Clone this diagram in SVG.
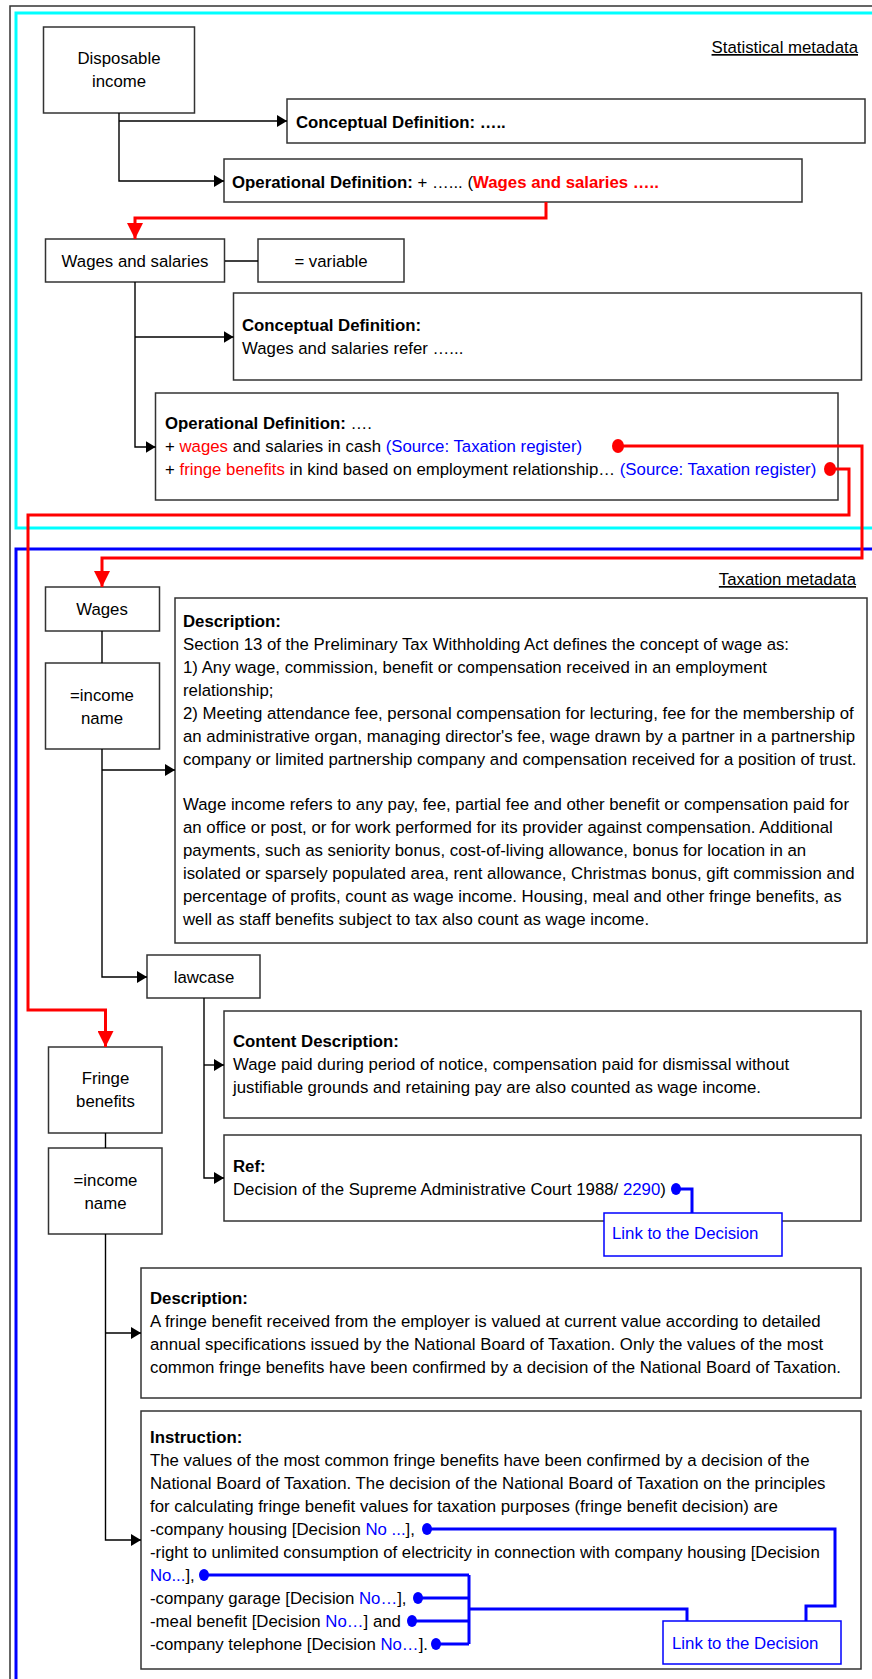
<svg xmlns="http://www.w3.org/2000/svg" width="872" height="1679" viewBox="0 0 872 1679">
<defs>
<marker id="ah" markerUnits="userSpaceOnUse" markerWidth="10" markerHeight="12" refX="10" refY="6" orient="auto"><path d="M0,0 L10,6 L0,12 z" fill="#000"/></marker>
<marker id="rh" markerUnits="userSpaceOnUse" markerWidth="16" markerHeight="16" refX="16" refY="8" orient="auto"><path d="M0,0 L16,8 L0,16 z" fill="#f00"/></marker>
</defs>
<style>
text{font-family:"Liberation Sans",Arial,sans-serif;font-size:16.8px;fill:#000}
.b{font-weight:bold}
.r{fill:#f00}
.bl{fill:#00f}
.c{text-anchor:middle}
.box{fill:#fff;stroke:#333;stroke-width:1.5}
.lnk{fill:#fff;stroke:#00f;stroke-width:1.5}
.con{fill:none;stroke:#000;stroke-width:1.4}
.red{fill:none;stroke:#f00;stroke-width:3}
.blu{fill:none;stroke:#00f;stroke-width:3}
.rd{fill:#f00}
.bd{fill:#00f}
</style>
<rect x="0" y="0" width="872" height="1679" fill="#fff"/>
<g id="frames">
<rect x="10" y="6" width="900" height="1700" fill="none" stroke="#333" stroke-width="1.5"/>
<rect x="16" y="13" width="900" height="515" fill="none" stroke="#00ffff" stroke-width="3"/>
<rect x="16" y="549" width="900" height="1200" fill="none" stroke="#00f" stroke-width="3"/>
<text x="858" y="53" text-anchor="end" text-decoration="underline">Statistical metadata</text>
<text x="856" y="585" text-anchor="end" text-decoration="underline">Taxation metadata</text>
</g>
<g id="disposable-income">
<rect class="box" x="43.5" y="27" width="151" height="86"/>
<text class="c" x="119" y="64">Disposable</text>
<text class="c" x="119" y="87">income</text>
</g>
<g id="conceptual-1">
<rect class="box" x="287" y="99" width="578" height="44"/>
<text class="b" x="296" y="128">Conceptual Definition: …..</text>
</g>
<g id="operational-1">
<rect class="box" x="224" y="159" width="578" height="43"/>
<text x="232" y="188"><tspan class="b">Operational Definition:</tspan> + …... (<tspan class="b r">Wages and salaries …..</tspan></text>
</g>
<g id="wages-and-salaries">
<rect class="box" x="45.5" y="239" width="179" height="43"/>
<text class="c" x="135" y="267">Wages and salaries</text>
</g>
<g id="variable">
<rect class="box" x="258" y="239" width="146" height="43"/>
<text class="c" x="331" y="267">= variable</text>
</g>
<g id="conceptual-2">
<rect class="box" x="233.5" y="293" width="628" height="87"/>
<text class="b" x="242" y="331">Conceptual Definition:</text>
<text x="242" y="354">Wages and salaries refer …...</text>
</g>
<g id="operational-2">
<rect class="box" x="155.5" y="393" width="682.5" height="107"/>
<text x="165" y="429"><tspan class="b">Operational Definition:</tspan> ….</text>
<text x="165" y="452">+ <tspan class="r">wages</tspan> and salaries in cash <tspan class="bl">(Source: Taxation register)</tspan></text>
<text x="165" y="475">+ <tspan class="r">fringe benefits</tspan> in kind based on employment relationship… <tspan class="bl">(Source: Taxation register)</tspan></text>
</g>
<g id="wages">
<rect class="box" x="45.5" y="587" width="114" height="44"/>
<text class="c" x="102" y="615">Wages</text>
</g>
<g id="income-name-1">
<rect class="box" x="45.5" y="663" width="114" height="86"/>
<text class="c" x="102" y="701">=income</text>
<text class="c" x="102" y="724">name</text>
</g>
<g id="description-1">
<rect class="box" x="175" y="598" width="692" height="345"/>
<text class="b" x="183" y="627">Description:</text>
<text x="183" y="650">Section 13 of the Preliminary Tax Withholding Act defines the concept of wage as:</text>
<text x="183" y="673">1) Any wage, commission, benefit or compensation received in an employment</text>
<text x="183" y="696">relationship;</text>
<text x="183" y="719">2) Meeting attendance fee, personal compensation for lecturing, fee for the membership of</text>
<text x="183" y="742">an administrative organ, managing director's fee, wage drawn by a partner in a partnership</text>
<text x="183" y="765">company or limited partnership company and compensation received for a position of trust.</text>
<text x="183" y="810">Wage income refers to any pay, fee, partial fee and other benefit or compensation paid for</text>
<text x="183" y="833">an office or post, or for work performed for its provider against compensation. Additional</text>
<text x="183" y="856">payments, such as seniority bonus, cost-of-living allowance, bonus for location in an</text>
<text x="183" y="879">isolated or sparsely populated area, rent allowance, Christmas bonus, gift commission and</text>
<text x="183" y="902">percentage of profits, count as wage income. Housing, meal and other fringe benefits, as</text>
<text x="183" y="925">well as staff benefits subject to tax also count as wage income.</text>
</g>
<g id="lawcase">
<rect class="box" x="147" y="955" width="113" height="43"/>
<text class="c" x="204" y="983">lawcase</text>
</g>
<g id="content-description">
<rect class="box" x="224" y="1011" width="637" height="107"/>
<text class="b" x="233" y="1047">Content Description:</text>
<text x="233" y="1070">Wage paid during period of notice, compensation paid for dismissal without</text>
<text x="233" y="1093">justifiable grounds and retaining pay are also counted as wage income.</text>
</g>
<g id="ref">
<rect class="box" x="224" y="1135" width="637" height="86"/>
<text class="b" x="233" y="1172">Ref:</text>
<text x="233" y="1195">Decision of the Supreme Administrative Court 1988/ <tspan class="bl">2290</tspan>)</text>
</g>
<g id="link-1">
<rect class="lnk" x="604" y="1213" width="178" height="43"/>
<text class="bl" x="612" y="1239">Link to the Decision</text>
</g>
<g id="fringe-benefits">
<rect class="box" x="48.5" y="1047" width="113.5" height="86"/>
<text class="c" x="105.5" y="1084">Fringe</text>
<text class="c" x="105.5" y="1107">benefits</text>
</g>
<g id="income-name-2">
<rect class="box" x="48.5" y="1148" width="113.5" height="86"/>
<text class="c" x="105.5" y="1186">=income</text>
<text class="c" x="105.5" y="1209">name</text>
</g>
<g id="description-2">
<rect class="box" x="141" y="1268" width="720" height="130"/>
<text class="b" x="150" y="1304">Description:</text>
<text x="150" y="1327">A fringe benefit received from the employer is valued at current value according to detailed</text>
<text x="150" y="1350">annual specifications issued by the National Board of Taxation. Only the values of the most</text>
<text x="150" y="1373">common fringe benefits have been confirmed by a decision of the National Board of Taxation.</text>
</g>
<g id="instruction">
<rect class="box" x="141" y="1411" width="720" height="258"/>
<text class="b" x="150" y="1443">Instruction:</text>
<text x="150" y="1466">The values of the most common fringe benefits have been confirmed by a decision of the</text>
<text x="150" y="1489">National Board of Taxation. The decision of the National Board of Taxation on the principles</text>
<text x="150" y="1512">for calculating fringe benefit values for taxation purposes (fringe benefit decision) are</text>
<text x="150" y="1535">-company housing [Decision <tspan class="bl">No ...</tspan>],</text>
<text x="150" y="1558">-right to unlimited consumption of electricity in connection with company housing [Decision</text>
<text x="150" y="1581"><tspan class="bl">No...</tspan>],</text>
<text x="150" y="1604">-company garage [Decision <tspan class="bl">No…</tspan>],</text>
<text x="150" y="1627">-meal benefit [Decision <tspan class="bl">No…</tspan>] and</text>
<text x="150" y="1650">-company telephone [Decision <tspan class="bl">No…</tspan>].</text>
</g>
<g id="link-2">
<rect class="lnk" x="663" y="1621" width="178" height="43"/>
<text class="bl" x="672" y="1649">Link to the Decision</text>
</g>
<g id="connectors">
<path class="con" d="M119,113 V181 H224" marker-end="url(#ah)"/>
<path class="con" d="M119,121 H287" marker-end="url(#ah)"/>
<path class="con" d="M225,261 H258"/>
<path class="con" d="M135,282 V447 H155.5" marker-end="url(#ah)"/>
<path class="con" d="M135,337 H233.5" marker-end="url(#ah)"/>
<path class="con" d="M102,631 V663"/>
<path class="con" d="M102,749 V977 H147" marker-end="url(#ah)"/>
<path class="con" d="M102,770 H175" marker-end="url(#ah)"/>
<path class="con" d="M204,998 V1178 H224" marker-end="url(#ah)"/>
<path class="con" d="M204,1065 H224" marker-end="url(#ah)"/>
<path class="con" d="M105.5,1133 V1148"/>
<path class="con" d="M105.5,1234 V1540 H141" marker-end="url(#ah)"/>
<path class="con" d="M105.5,1333 H141" marker-end="url(#ah)"/>
<path class="red" d="M546,202 V218 H135 V239" marker-end="url(#rh)"/>
<path class="red" d="M618,446 H862 V558 H102 V587" marker-end="url(#rh)"/>
<path class="red" d="M830,469 H849 V515 H28 V1010 H105.5 V1047" marker-end="url(#rh)"/>
<ellipse class="rd" cx="618" cy="446" rx="6" ry="7"/>
<ellipse class="rd" cx="830" cy="469" rx="6" ry="7"/>
<path class="blu" d="M676,1189 H692 V1213"/>
<ellipse class="bd" cx="676" cy="1189" rx="5" ry="6"/>
<path class="blu" d="M427,1529 H835 V1606 H806 V1621"/>
<path class="blu" d="M204,1575 H469 M418,1598 H469 M412,1621 H469 M436,1644 H469 M469,1575 V1644 M469,1609 H687 V1621"/>
<ellipse class="bd" cx="427" cy="1529" rx="5" ry="6"/>
<ellipse class="bd" cx="204" cy="1575" rx="5" ry="6"/>
<ellipse class="bd" cx="418" cy="1598" rx="5" ry="6"/>
<ellipse class="bd" cx="412" cy="1621" rx="5" ry="6"/>
<ellipse class="bd" cx="436" cy="1644" rx="5" ry="6"/>
</g>
</svg>
